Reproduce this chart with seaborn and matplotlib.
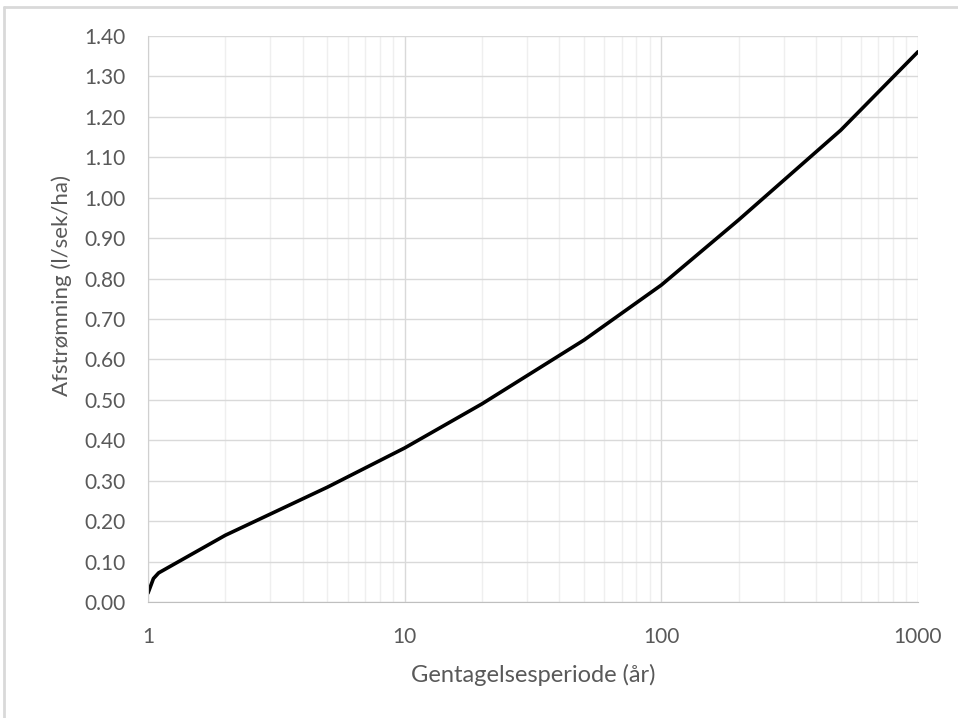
import numpy as np
import pandas as pd
import matplotlib.pyplot as plt
import seaborn as sns
from matplotlib.ticker import LogLocator, FixedLocator, FuncFormatter

# --- data ---
periods = [1, 1.05, 1.1, 2, 5, 10, 20, 50, 100, 200, 500, 1000]
runoff = [0.022, 0.058, 0.072, 0.165, 0.284, 0.381, 0.490, 0.648, 0.784, 0.945, 1.167, 1.361]
y_ticks = [0.0, 0.1, 0.2, 0.3, 0.4, 0.5, 0.6, 0.7, 0.8, 0.9, 1.0, 1.1, 1.2, 1.3, 1.4]
x_ticks = [1, 10, 100, 1000]

df = pd.DataFrame({"T": periods, "q": runoff})

sns.set_style("white")
plt.rcParams["font.family"] = ["Lato", "DejaVu Sans"]

txt = "#595959"
fig = plt.figure(figsize=(9.58, 7.18), dpi=100)
ax = fig.add_axes([148 / 958, 116 / 718, 770 / 958, 566 / 718])

sns.lineplot(data=df, x="T", y="q", color="black", linewidth=2.6, ax=ax)
ax.set_xscale("log")
ax.set_xlim(1, 1000)
ax.set_ylim(0, 1.4)

ax.xaxis.set_major_locator(FixedLocator(x_ticks))
ax.xaxis.set_major_formatter(FuncFormatter(lambda v, p: f"{v:g}"))
ax.xaxis.set_minor_locator(LogLocator(base=10, subs=np.arange(2, 10)))
ax.xaxis.set_minor_formatter(FuncFormatter(lambda v, p: ""))
ax.set_yticks(y_ticks)
ax.yaxis.set_major_formatter(FuncFormatter(lambda v, p: f"{v:.2f}"))

ax.grid(which="major", color="#d9d9d9", linewidth=1.0)
ax.grid(which="minor", axis="x", color="#efefef", linewidth=1.0)
ax.set_axisbelow(True)

for s in ["top", "right"]:
    ax.spines[s].set_visible(False)
ax.spines["left"].set_color("#d0d0d0")
ax.spines["bottom"].set_color("#bfbfbf")

ax.tick_params(axis="x", which="both", direction="out", colors="#bfbfbf",
               labelcolor=txt, labelsize=15, pad=12)
ax.tick_params(axis="x", which="major", length=6)
ax.tick_params(axis="x", which="minor", length=5)
ax.tick_params(axis="y", length=0, labelcolor=txt, labelsize=15, pad=16)

ax.set_xlabel("Gentagelsesperiode (år)", color=txt, fontsize=17, labelpad=12)
ax.set_ylabel("Afstrømning (l/sek/ha)", color=txt, fontsize=16)
ax.yaxis.set_label_coords(-0.099, 0.56)

# outer chart-area frame (cropped at right and bottom)
fig.add_artist(plt.Line2D([4 / 958, 4 / 958], [0, 1 - 7 / 718], color="#d9d9d9",
                          linewidth=2, transform=fig.transFigure))
fig.add_artist(plt.Line2D([4 / 958, 1], [1 - 7 / 718, 1 - 7 / 718], color="#d9d9d9",
                          linewidth=2, transform=fig.transFigure))

fig.savefig("out.png", dpi=100)
